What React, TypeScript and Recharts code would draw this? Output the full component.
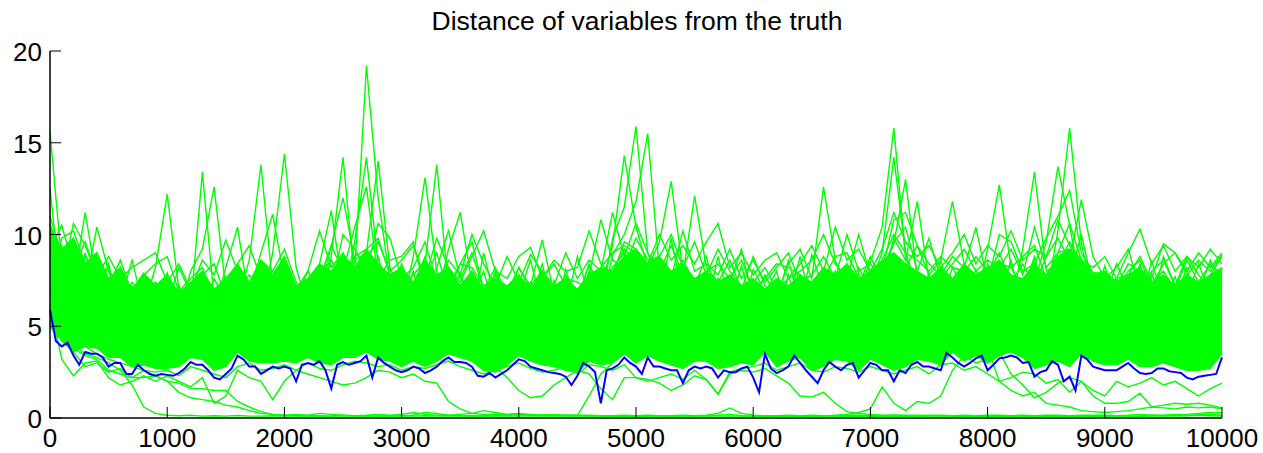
import { ComposedChart, Area, Line, XAxis, YAxis } from "recharts";

// sampling grid for the green traces, one point every 100 iterations
const steps = [
  0, 100, 200, 300, 400, 500, 600, 700, 800, 900,
  1000, 1100, 1200, 1300, 1400, 1500, 1600, 1700, 1800, 1900,
  2000, 2100, 2200, 2300, 2400, 2500, 2600, 2700, 2800, 2900,
  3000, 3100, 3200, 3300, 3400, 3500, 3600, 3700, 3800, 3900,
  4000, 4100, 4200, 4300, 4400, 4500, 4600, 4700, 4800, 4900,
  5000, 5100, 5200, 5300, 5400, 5500, 5600, 5700, 5800, 5900,
  6000, 6100, 6200, 6300, 6400, 6500, 6600, 6700, 6800, 6900,
  7000, 7100, 7200, 7300, 7400, 7500, 7600, 7700, 7800, 7900,
  8000, 8100, 8200, 8300, 8400, 8500, 8600, 8700, 8800, 8900,
  9000, 9100, 9200, 9300, 9400, 9500, 9600, 9700, 9800, 9900,
  10000,
];

// finer grid for the blue trace, every 50 iterations
const blueSteps = [
  0, 50, 100, 150, 200, 250, 300, 350, 400, 450,
  500, 550, 600, 650, 700, 750, 800, 850, 900, 950,
  1000, 1050, 1100, 1150, 1200, 1250, 1300, 1350, 1400, 1450,
  1500, 1550, 1600, 1650, 1700, 1750, 1800, 1850, 1900, 1950,
  2000, 2050, 2100, 2150, 2200, 2250, 2300, 2350, 2400, 2450,
  2500, 2550, 2600, 2650, 2700, 2750, 2800, 2850, 2900, 2950,
  3000, 3050, 3100, 3150, 3200, 3250, 3300, 3350, 3400, 3450,
  3500, 3550, 3600, 3650, 3700, 3750, 3800, 3850, 3900, 3950,
  4000, 4050, 4100, 4150, 4200, 4250, 4300, 4350, 4400, 4450,
  4500, 4550, 4600, 4650, 4700, 4750, 4800, 4850, 4900, 4950,
  5000, 5050, 5100, 5150, 5200, 5250, 5300, 5350, 5400, 5450,
  5500, 5550, 5600, 5650, 5700, 5750, 5800, 5850, 5900, 5950,
  6000, 6050, 6100, 6150, 6200, 6250, 6300, 6350, 6400, 6450,
  6500, 6550, 6600, 6650, 6700, 6750, 6800, 6850, 6900, 6950,
  7000, 7050, 7100, 7150, 7200, 7250, 7300, 7350, 7400, 7450,
  7500, 7550, 7600, 7650, 7700, 7750, 7800, 7850, 7900, 7950,
  8000, 8050, 8100, 8150, 8200, 8250, 8300, 8350, 8400, 8450,
  8500, 8550, 8600, 8650, 8700, 8750, 8800, 8850, 8900, 8950,
  9000, 9050, 9100, 9150, 9200, 9250, 9300, 9350, 9400, 9450,
  9500, 9550, 9600, 9650, 9700, 9750, 9800, 9850, 9900, 9950,
  10000,
];

const xTicks = [0, 1000, 2000, 3000, 4000, 5000, 6000, 7000, 8000, 9000, 10000];
const yTicks = [0, 5, 10, 15, 20];

// mean distance (blue)
const blueDist = [
  5.9, 4.2, 3.9, 4.1, 3.4, 2.9, 3.6, 3.5, 3.5, 3.3,
  2.8, 3.0, 3.0, 2.4, 2.4, 2.9, 2.6, 2.4, 2.3, 2.4,
  2.35, 2.3, 2.45, 2.7, 3.05, 2.9, 2.9, 2.6, 2.2, 2.1,
  2.4, 2.7, 3.4, 3.2, 2.8, 2.8, 2.4, 2.6, 2.8, 2.7,
  2.8, 2.7, 2.0, 2.9, 3.0, 2.9, 3.1, 2.6, 1.6, 2.9,
  3.05, 2.9, 3.0, 3.1, 3.4, 2.2, 3.3, 3.0, 2.8, 2.6,
  2.5, 2.6, 2.8, 2.7, 2.45, 2.6, 2.8, 3.1, 3.3, 3.05,
  3.05, 3.0, 2.8, 2.3, 2.25, 2.45, 2.2, 2.4, 2.6, 2.9,
  3.2, 3.1, 2.8, 2.7, 2.6, 2.5, 2.45, 2.4, 2.25, 1.8,
  2.3, 3.0, 2.8, 2.5, 0.8, 2.6, 2.7, 2.9, 3.3, 3.0,
  2.8, 2.4, 3.3, 2.8, 2.8, 2.7, 2.6, 2.6, 1.9, 2.6,
  2.8, 2.7, 2.8, 2.7, 2.2, 2.6, 2.5, 2.5, 2.7, 2.8,
  2.2, 1.4, 3.5, 2.7, 2.45, 2.6, 2.8, 3.4, 3.0, 2.6,
  2.25, 1.9, 2.6, 3.05, 2.8, 2.6, 2.9, 3.0, 2.2, 2.6,
  3.0, 2.9, 2.6, 2.6, 2.0, 2.6, 2.45, 2.9, 3.05, 2.8,
  2.8, 2.7, 2.6, 3.55, 3.3, 3.0, 2.8, 3.0, 3.25, 3.4,
  2.6, 2.9, 3.25, 3.3, 3.4, 3.3, 3.0, 3.05, 2.25, 2.5,
  2.6, 3.1, 2.9, 2.0, 2.25, 1.5, 3.4, 3.2, 2.8, 2.7,
  2.6, 2.6, 2.6, 2.8, 3.0, 2.7, 2.45, 2.4, 2.45, 2.7,
  2.7, 2.55, 2.5, 2.45, 2.2, 2.1, 2.25, 2.3, 2.35, 2.4,
  3.3,
];

// dense core of the green bundle
const bandLow = [
  5.2, 4.3, 3.6, 3.9, 3.8, 3.3, 3.3, 2.8, 2.9, 2.7,
  2.7, 2.8, 3.3, 3.2, 2.6, 2.8, 3.6, 3.1, 3.0, 3.0,
  3.1, 3.0, 3.3, 3.0, 2.9, 3.3, 3.3, 3.6, 3.2, 3.1,
  2.8, 3.1, 2.8, 3.1, 3.5, 3.3, 3.1, 2.6, 2.5, 2.9,
  3.4, 3.1, 2.9, 2.8, 2.6, 2.5, 3.1, 2.9, 3.0, 3.5,
  3.0, 3.4, 3.1, 2.9, 2.7, 3.1, 3.1, 2.7, 2.8, 3.0,
  2.9, 3.6, 2.8, 3.1, 3.3, 2.6, 2.8, 3.2, 3.1, 2.6,
  3.2, 2.9, 2.6, 2.8, 3.2, 3.1, 2.9, 3.6, 3.1, 3.4,
  3.0, 3.4, 3.6, 3.3, 2.7, 2.9, 3.1, 2.8, 3.5, 3.1,
  2.9, 2.9, 3.2, 2.8, 2.8, 3.0, 2.8, 2.6, 2.6, 2.7,
  3.5,
];
const bandHigh = [
  10.5, 9.2, 9.8, 8.4, 9.0, 7.6, 8.2, 7.0, 7.9, 7.2,
  7.8, 6.8, 7.4, 8.0, 7.0, 7.6, 8.4, 7.4, 8.6, 7.8,
  8.8, 7.2, 7.6, 8.4, 8.0, 8.9, 8.2, 9.2, 8.4, 7.8,
  8.2, 7.4, 8.6, 7.8, 8.2, 7.2, 8.0, 7.0, 7.6, 7.2,
  7.8, 7.0, 8.0, 7.2, 7.6, 7.0, 7.8, 8.2, 8.0, 8.8,
  9.2, 8.4, 8.8, 8.0, 8.4, 7.6, 8.0, 7.4, 7.8, 7.2,
  7.6, 7.0, 7.6, 7.2, 7.8, 7.4, 8.2, 7.8, 8.4, 7.6,
  8.0, 8.6, 9.0, 8.4, 8.0, 7.6, 8.2, 7.6, 8.4, 7.8,
  8.2, 8.6, 7.8, 7.6, 8.4, 7.8, 8.8, 9.2, 8.6, 7.8,
  8.0, 7.4, 7.8, 8.2, 7.4, 7.8, 7.2, 7.8, 7.4, 7.8,
  8.2,
];

// upper green traces
const greenA = [
  15.6, 8.5, 6.2, 7.8, 5.5, 6.9, 5.0, 7.2, 5.8, 6.6,
  5.2, 7.0, 6.0, 13.4, 6.5, 5.4, 7.9, 5.8, 6.7, 7.4,
  5.6, 6.2, 5.0, 7.6, 6.4, 8.2, 8.0, 19.2, 12.0, 7.5,
  6.2, 8.0, 5.7, 7.1, 6.0, 5.2, 7.4, 5.5, 6.8, 5.3,
  7.2, 6.0, 5.4, 7.5, 5.8, 6.6, 8.3, 6.2, 9.8, 11.5,
  15.9, 9.0, 7.2, 6.0, 8.4, 5.8, 7.0, 5.6, 6.9, 5.4,
  7.3, 6.0, 5.2, 7.8, 5.5, 6.8, 6.1, 8.0, 6.2, 7.0,
  8.5, 10.4, 15.8, 8.8, 6.9, 7.8, 5.9, 7.2, 6.3, 8.1,
  6.0, 7.6, 5.8, 6.9, 8.8, 6.5, 10.2, 15.8, 9.5, 6.8,
  7.4, 5.6, 6.8, 5.9, 7.9, 6.2, 5.4, 7.3, 5.8, 6.9,
  6.0,
];
const greenB = [
  12.5, 6.4, 8.9, 5.8, 7.4, 6.0, 5.2, 7.0, 6.1, 8.2,
  12.2, 7.0, 5.4, 6.6, 5.5, 7.7, 6.3, 8.6, 13.8, 7.2,
  6.4, 5.5, 7.0, 6.0, 8.8, 14.2, 7.5, 6.2, 8.0, 6.1,
  7.6, 5.4, 8.4, 13.8, 7.0, 5.8, 6.6, 8.0, 5.7, 6.5,
  5.6, 7.4, 6.3, 5.5, 8.1, 6.0, 7.2, 5.9, 8.9, 10.0,
  11.8, 15.5, 8.0, 6.3, 7.8, 6.0, 5.5, 7.6, 6.2, 8.3,
  5.9, 6.8, 8.0, 5.6, 7.0, 5.8, 7.5, 6.2, 5.5, 7.9,
  6.4, 8.2, 9.5, 13.0, 7.6, 6.0, 8.0, 5.7, 6.9, 5.8,
  7.8, 6.6, 8.6, 6.0, 7.4, 9.6, 13.7, 10.5, 7.0, 6.2,
  5.8, 7.6, 6.3, 8.4, 5.9, 7.0, 6.4, 8.2, 5.7, 7.8,
  8.8,
];
const greenC = [
  9.6, 7.8, 5.9, 9.0, 6.6, 8.4, 5.6, 6.3, 7.6, 5.4,
  6.8, 5.6, 8.0, 9.2, 12.6, 7.0, 6.0, 7.3, 5.8, 9.0,
  14.4, 8.2, 6.0, 5.7, 7.8, 6.4, 9.6, 14.2, 8.4, 7.0,
  5.9, 8.8, 13.1, 8.0, 6.6, 7.9, 5.7, 9.0, 6.4, 5.6,
  7.8, 6.2, 8.4, 5.8, 6.7, 5.6, 8.0, 7.2, 9.4, 14.3,
  10.4, 8.2, 6.4, 9.8, 6.6, 7.6, 5.9, 8.8, 6.3, 5.6,
  8.1, 6.9, 5.8, 6.4, 8.8, 6.0, 7.2, 5.8, 8.4, 6.1,
  7.3, 9.0, 14.2, 9.0, 7.2, 6.1, 8.6, 6.3, 7.4, 6.0,
  8.4, 7.0, 6.2, 9.2, 13.4, 8.0, 8.4, 9.6, 8.0, 6.1,
  8.3, 6.2, 7.2, 5.8, 8.6, 6.3, 7.7, 5.9, 6.8, 8.6,
  7.2,
];
const greenD = [
  8.0, 9.4, 7.2, 11.2, 7.4, 6.2, 8.2, 5.8, 7.0, 6.1,
  7.9, 5.9, 6.6, 7.4, 5.8, 8.2, 10.4, 6.4, 7.8, 6.2,
  8.6, 6.3, 7.2, 8.4, 11.3, 7.0, 8.6, 9.0, 14.0, 8.2,
  6.6, 7.2, 8.8, 6.4, 9.2, 11.2, 7.4, 6.2, 8.0, 6.3,
  6.7, 8.6, 6.0, 7.3, 6.1, 8.8, 6.6, 7.4, 8.2, 9.0,
  7.0, 8.2, 9.6, 12.9, 8.0, 7.2, 8.8, 6.1, 7.4, 9.2,
  6.3, 7.8, 6.5, 8.6, 6.2, 8.9, 7.0, 6.3, 8.0, 7.2,
  8.8, 7.4, 9.8, 8.6, 11.8, 7.5, 6.2, 8.2, 7.0, 6.4,
  9.2, 12.7, 8.2, 7.0, 8.6, 6.8, 8.2, 7.6, 10.0, 7.2,
  6.6, 8.4, 7.0, 7.8, 6.1, 8.8, 7.2, 6.6, 8.4, 6.7,
  8.2,
];
const greenE = [
  10.6, 8.0, 9.6, 7.2, 10.4, 8.0, 6.4, 8.6, 6.0, 7.2,
  6.2, 8.2, 6.8, 5.9, 7.6, 6.4, 8.0, 6.8, 9.0, 11.1,
  7.6, 6.6, 8.0, 6.8, 9.4, 12.0, 8.6, 7.2, 8.8, 6.4,
  8.4, 6.8, 7.6, 9.0, 6.8, 8.4, 9.6, 7.0, 8.2, 6.6,
  8.2, 7.2, 9.7, 6.8, 7.8, 6.4, 8.4, 7.0, 8.0, 9.2,
  8.6, 7.4, 8.0, 9.4, 7.8, 12.1, 8.2, 7.4, 8.6, 7.0,
  8.8, 7.2, 6.6, 8.4, 9.2, 7.6, 12.6, 8.6, 7.0, 8.2,
  6.9, 8.4, 7.6, 8.2, 9.4, 7.8, 8.6, 11.8, 8.4, 7.4,
  7.8, 9.0, 7.4, 8.4, 7.2, 8.8, 9.8, 8.6, 11.9, 8.8,
  7.6, 8.2, 9.2, 7.0, 8.0, 8.6, 7.2, 8.8, 7.8, 7.0,
  7.4,
];
const greenF = [
  9.2, 10.5, 8.2, 9.6, 7.8, 8.8, 7.6, 8.2, 8.6, 9.0,
  7.4, 8.4, 7.0, 8.6, 7.8, 9.7, 8.0, 7.0, 8.2, 7.4,
  8.4, 7.0, 8.0, 10.2, 8.2, 9.0, 7.8, 8.8, 9.6, 8.0,
  8.6, 9.4, 7.6, 9.8, 8.2, 7.4, 8.8, 10.2, 8.0, 7.6,
  8.8, 9.3, 7.6, 8.6, 8.0, 8.2, 10.2, 8.4, 7.8, 9.6,
  9.2, 8.4, 10.0, 8.6, 9.4, 8.4, 9.6, 10.6, 8.2, 9.0,
  7.8, 8.6, 9.0, 7.6, 8.4, 9.4, 8.0, 10.4, 8.6, 9.2,
  8.0, 9.2, 11.2, 9.6, 8.8, 9.4, 8.2, 9.0, 10.0, 8.4,
  9.4, 8.8, 10.2, 8.6, 9.2, 8.8, 10.8, 9.4, 8.6, 8.2,
  8.8, 7.6, 9.0, 10.3, 8.4, 9.4, 8.0, 8.8, 8.2, 9.2,
  8.4,
];
const greenG = [
  7.0, 9.8, 10.2, 8.4, 9.0, 7.2, 8.6, 6.8, 7.8, 8.4,
  8.8, 6.9, 7.6, 8.2, 6.6, 7.2, 8.4, 9.4, 7.6, 8.0,
  9.2, 7.4, 6.6, 8.0, 7.0, 10.0, 9.2, 8.0, 10.6, 9.8,
  7.6, 8.2, 9.6, 7.4, 8.6, 7.8, 10.0, 8.4, 7.2, 8.8,
  7.4, 8.9, 8.0, 7.2, 9.0, 7.6, 8.6, 8.0, 11.2, 8.8,
  10.6, 9.0, 8.2, 7.6, 10.2, 8.0, 8.4, 7.8, 9.2, 7.6,
  8.6, 7.4, 8.2, 9.0, 7.4, 7.8, 8.8, 7.6, 10.0, 8.0,
  8.4, 7.6, 9.6, 10.4, 8.0, 9.8, 7.6, 8.4, 9.2, 8.0,
  8.6, 8.2, 9.2, 7.8, 10.4, 8.2, 9.0, 10.6, 8.6, 7.9,
  7.9, 7.2, 8.4, 8.0, 7.6, 9.5, 9.0, 7.8, 8.6, 8.0,
  8.9,
];
const greenH = [
  6.0, 7.6, 10.6, 9.4, 7.8, 8.2, 6.2, 7.4, 6.6, 7.0,
  7.6, 6.2, 6.8, 7.8, 8.4, 6.6, 7.4, 6.8, 8.6, 8.0,
  6.8, 7.2, 6.4, 7.6, 9.4, 8.0, 10.4, 12.6, 7.6, 8.6,
  8.8, 9.6, 7.0, 8.2, 10.2, 7.6, 9.0, 7.0, 7.8, 6.8,
  8.2, 7.0, 7.6, 8.4, 7.2, 7.0, 7.8, 10.8, 8.6, 8.2,
  9.8, 8.6, 8.8, 10.0, 8.2, 9.6, 7.8, 9.2, 8.0, 7.2,
  7.4, 8.2, 7.0, 7.6, 8.0, 8.6, 10.0, 8.4, 7.6, 10.0,
  7.8, 8.0, 10.8, 11.2, 9.4, 8.4, 7.8, 8.8, 8.2, 10.4,
  7.4, 10.0, 9.6, 8.0, 8.4, 9.8, 11.0, 12.4, 9.0, 7.9,
  7.8, 7.0, 8.0, 8.6, 7.2, 8.4, 9.0, 8.0, 9.0, 8.2,
  9.0,
];
const greenI = [
  11.0, 8.8, 7.0, 8.8, 8.0, 6.6, 7.6, 6.0, 6.8, 7.4,
  6.4, 7.2, 6.2, 7.0, 6.6, 7.6, 7.2, 7.8, 7.0, 7.8,
  7.6, 6.8, 7.2, 7.8, 8.6, 7.4, 8.8, 9.2, 9.8, 7.8,
  7.2, 7.8, 8.6, 7.4, 7.2, 8.4, 8.2, 7.2, 7.6, 7.0,
  7.6, 7.2, 8.0, 7.0, 7.6, 7.4, 7.0, 8.2, 9.0, 9.4,
  9.0, 8.0, 8.6, 7.6, 8.6, 7.4, 8.0, 8.4, 7.6, 8.6,
  7.0, 7.6, 8.4, 8.2, 7.8, 7.2, 7.6, 8.8, 9.0, 7.6,
  7.6, 8.6, 10.0, 9.0, 8.6, 8.0, 8.8, 8.2, 8.0, 8.8,
  8.0, 8.4, 8.2, 8.8, 9.4, 7.6, 9.0, 9.2, 8.2, 7.4,
  7.2, 7.6, 7.8, 8.8, 7.4, 8.0, 7.0, 8.6, 7.4, 8.4,
  7.8,
];

// lower green traces (variables that converge)
const lowA = [
  6.0, 4.8, 4.0, 3.5, 3.3, 3.0, 2.6, 1.8, 0.6, 0.25,
  0.15, 0.12, 0.15, 0.1, 0.12, 0.1, 0.14, 0.1, 0.1, 0.12,
  0.1, 0.1, 0.12, 0.1, 0.1, 0.15, 0.1, 0.12, 0.1, 0.1,
  0.12, 0.15, 0.3, 0.25, 0.15, 0.12, 0.1, 0.12, 0.1, 0.1,
  0.12, 0.1, 0.1, 0.1, 0.15, 0.12, 0.1, 0.1, 0.08, 0.1,
  0.08, 0.1, 0.1, 0.08, 0.1, 0.1, 0.12, 0.15, 0.2, 0.12,
  0.1, 0.08, 0.1, 0.08, 0.1, 0.08, 0.1, 0.1, 0.08, 0.1,
  0.08, 0.1, 0.08, 0.1, 0.08, 0.1, 0.1, 0.08, 0.1, 0.08,
  0.1, 0.08, 0.1, 0.1, 0.08, 0.1, 0.08, 0.1, 0.08, 0.1,
  0.08, 0.1, 0.1, 0.08, 0.1, 0.12, 0.1, 0.12, 0.15, 0.12,
  0.1,
];
const lowB = [
  6.5, 5.2, 4.2, 3.9, 3.5, 3.2, 3.0, 2.8, 2.6, 2.3,
  2.0, 1.4, 1.1, 1.0, 0.9, 0.7, 0.6, 0.4, 0.25, 0.2,
  0.15, 0.2, 0.15, 0.25, 0.2, 0.15, 0.12, 0.15, 0.2, 0.15,
  0.2, 0.3, 0.2, 0.15, 0.15, 0.2, 0.25, 0.4, 0.3, 0.2,
  0.2, 0.15, 0.15, 0.2, 0.15, 0.15, 1.2, 2.4, 3.0, 3.5,
  3.3, 3.8, 3.4, 3.6, 3.2, 3.5, 3.8, 3.4, 3.6, 3.9,
  3.5, 4.0, 3.4, 3.6, 3.9, 3.4, 3.6, 3.8, 3.5, 3.4,
  3.6, 3.3, 3.5, 3.8, 3.6, 3.4, 3.7, 3.9, 3.5, 3.6,
  3.8, 2.0, 1.5, 1.2, 1.4, 0.8, 0.7, 0.6, 0.4, 0.35,
  0.3, 0.35, 0.4, 0.5, 0.6, 0.55, 0.5, 0.6, 0.55, 0.6,
  0.5,
];
const lowC = [
  5.5, 4.4, 3.8, 3.4, 3.2, 2.6, 2.4, 2.2, 2.2, 2.3,
  2.0, 1.9, 1.6, 1.6, 1.5, 1.5, 0.9, 0.6, 0.35, 0.2,
  0.15, 0.12, 0.1, 0.12, 0.1, 0.1, 0.12, 0.1, 0.1, 0.12,
  0.1, 0.1, 0.12, 0.1, 0.1, 0.1, 0.12, 0.1, 0.12, 0.2,
  0.25, 0.2, 0.15, 0.12, 0.1, 0.1, 0.1, 0.12, 0.1, 0.1,
  0.1, 0.1, 0.1, 0.1, 0.1, 0.1, 0.1, 0.1, 0.1, 0.1,
  0.1, 0.1, 0.1, 0.1, 0.1, 0.1, 0.1, 0.15, 0.2, 0.3,
  0.5, 1.7, 0.8, 0.4, 0.9, 0.8, 1.2, 2.6, 3.4, 3.0,
  3.2, 3.6, 2.4, 1.8, 1.1, 1.4, 1.9, 2.2, 2.0, 1.2,
  0.8, 0.8, 0.9, 1.35, 0.6, 0.7, 0.8, 0.75, 0.8, 0.7,
  0.55,
];
const lowD = [
  6.2, 3.2, 2.3, 3.0, 3.1, 2.2, 1.8, 2.0, 2.3, 2.0,
  2.3, 2.0, 1.7, 2.2, 0.8, 1.2, 2.6, 2.2, 2.0, 1.0,
  2.0, 2.6, 2.4, 2.2, 2.0, 1.8, 1.9, 2.2, 2.6, 2.5,
  2.2, 2.4, 2.0, 1.9, 0.9, 0.5, 0.25, 0.2, 0.2, 0.15,
  0.2, 0.15, 0.15, 0.15, 0.12, 0.15, 0.15, 0.12, 0.12, 0.15,
  0.12, 0.15, 0.12, 0.12, 0.15, 0.12, 0.15, 0.25, 0.55, 0.25,
  0.15, 0.12, 0.12, 0.15, 0.12, 0.15, 0.12, 0.12, 0.15, 0.15,
  0.15, 0.12, 0.15, 0.15, 0.12, 0.15, 0.12, 0.12, 0.15, 0.12,
  0.15, 0.15, 0.12, 0.15, 0.12, 0.15, 0.15, 0.12, 0.15, 0.15,
  0.15, 0.12, 0.15, 0.2, 0.15, 0.15, 0.2, 0.2, 0.25, 0.3,
  0.3,
];
const lowE = [
  7.0, 5.6, 5.0, 4.6, 4.8, 4.2, 4.0, 3.6, 3.8, 3.4,
  3.5, 3.6, 3.9, 3.6, 3.2, 3.4, 3.8, 3.5, 3.4, 3.6,
  3.8, 3.4, 3.6, 3.9, 3.5, 3.7, 3.6, 3.9, 3.6, 3.4,
  3.3, 3.5, 3.2, 3.4, 3.8, 3.6, 3.4, 3.1, 2.8, 2.2,
  1.5, 1.1, 1.2, 1.8, 2.2, 2.6, 2.4, 1.6, 1.0, 2.2,
  2.2, 2.1, 1.9, 1.5, 1.8, 2.3, 2.1, 1.3, 2.4, 2.6,
  2.5, 2.7, 2.3, 1.9, 1.2, 1.15, 1.4, 0.8, 0.35, 0.25,
  0.2, 0.15, 0.15, 0.12, 0.15, 0.12, 0.15, 0.12, 0.1, 0.12,
  0.1, 0.12, 0.1, 0.12, 0.1, 0.1, 0.12, 0.1, 0.1, 0.12,
  0.1, 0.12, 0.1, 0.1, 0.15, 0.12, 0.15, 0.15, 0.2, 0.2,
  0.15,
];
const lowF = [
  5.0, 4.2, 3.6, 2.8, 3.0, 2.5, 2.7, 2.2, 2.6, 2.5,
  2.6, 2.3, 2.8, 2.6, 2.4, 2.2, 2.8, 3.0, 2.6, 2.7,
  2.9, 2.6, 3.0, 2.7, 2.6, 2.9, 3.1, 3.0, 2.8, 2.9,
  2.6, 2.8, 2.7, 2.9, 3.1, 2.8, 2.6, 2.4, 2.6, 2.8,
  3.0, 2.7, 2.5, 2.6, 2.8, 2.4, 2.9, 2.8, 2.6, 2.9,
  2.2, 2.0, 2.2, 2.4, 2.1, 2.6, 2.1, 1.3, 2.5, 2.7,
  2.8, 3.0, 2.6, 2.8, 3.0, 2.6, 2.5, 2.8, 2.7, 2.5,
  2.8, 2.6, 2.4, 2.6, 2.8, 2.4, 2.9, 3.0, 2.6, 2.8,
  2.4, 2.0, 2.2, 2.5, 2.4, 1.9, 2.1, 1.4, 2.0, 1.5,
  1.2, 2.0, 1.7, 1.9, 2.2, 1.8, 2.0, 1.6, 1.2, 1.6,
  1.9,
];

const greenSeries = [
  lowA, lowB, lowC, lowD, lowE, lowF,
  greenA, greenB, greenC, greenD, greenE, greenF, greenG, greenH, greenI,
];

const rows = steps.map((step, i) => {
  const row: Record<string, any> = { step, band: [bandLow[i], bandHigh[i]] };
  greenSeries.forEach((s, k) => {
    row["g" + k] = s[i];
  });
  return row;
});

const blueRows = blueSteps.map((step, i) => ({ step, dist: blueDist[i] }));

const FONT = "'Liberation Sans', Arial, Helvetica, sans-serif";

function XTick(props: any) {
  const { x, y, payload } = props;
  return (
    <g>
      <line x1={x} y1={y} x2={x} y2={y - 11} stroke="#000" strokeWidth={1} />
      <text x={x} y={y + 29} textAnchor="middle" fontSize={26} fontFamily={FONT} fill="#000">
        {payload.value}
      </text>
    </g>
  );
}

function YTick(props: any) {
  const { x, y, payload } = props;
  return (
    <g>
      <line x1={x} y1={y} x2={x + 11} y2={y} stroke="#000" strokeWidth={1} />
      <text x={x - 8} y={y + 10} textAnchor="end" fontSize={26} fontFamily={FONT} fill="#000">
        {payload.value}
      </text>
    </g>
  );
}

export default function App() {
  return (
    <div style={{ position: "absolute", left: 0, top: 0, width: 1263, height: 453, background: "#fff" }}>
      <svg width={1263} height={40} style={{ position: "absolute", left: 0, top: 0 }}>
        <text x={637} y={30} textAnchor="middle" fontSize={26.5} fontFamily={FONT} fill="#000">
          Distance of variables from the truth
        </text>
      </svg>
      <div style={{ position: "absolute", left: 0, top: 0 }}>
        <ComposedChart
          width={1263}
          height={453}
          data={rows}
          margin={{ top: 51, right: 41, bottom: 0, left: 0 }}
        >
          <XAxis
            dataKey="step"
            type="number"
            domain={[0, 10000]}
            ticks={xTicks}
            interval={0}
            height={35}
            tickSize={0}
            tickMargin={0}
            tickLine={false}
            tick={<XTick />}
            axisLine={{ stroke: "#000", strokeWidth: 1.5 }}
          />
          <YAxis
            type="number"
            domain={[0, 20]}
            ticks={yTicks}
            interval={0}
            width={50}
            tickSize={0}
            tickMargin={0}
            tickLine={false}
            tick={<YTick />}
            axisLine={{ stroke: "#000", strokeWidth: 1.5 }}
          />
          <Area
            dataKey="band"
            type="linear"
            stroke="#00ff00"
            strokeWidth={1.3}
            fill="#00ff00"
            fillOpacity={1}
            isAnimationActive={false}
          />
          {greenSeries.map((_, k) => (
            <Line
              key={k}
              dataKey={"g" + k}
              type="linear"
              stroke="#00ff00"
              strokeWidth={1.4}
              dot={false}
              isAnimationActive={false}
            />
          ))}
          <Line
            data={blueRows}
            dataKey="dist"
            type="linear"
            stroke="#0000ff"
            strokeWidth={2}
            dot={false}
            isAnimationActive={false}
          />
        </ComposedChart>
      </div>
    </div>
  );
}
